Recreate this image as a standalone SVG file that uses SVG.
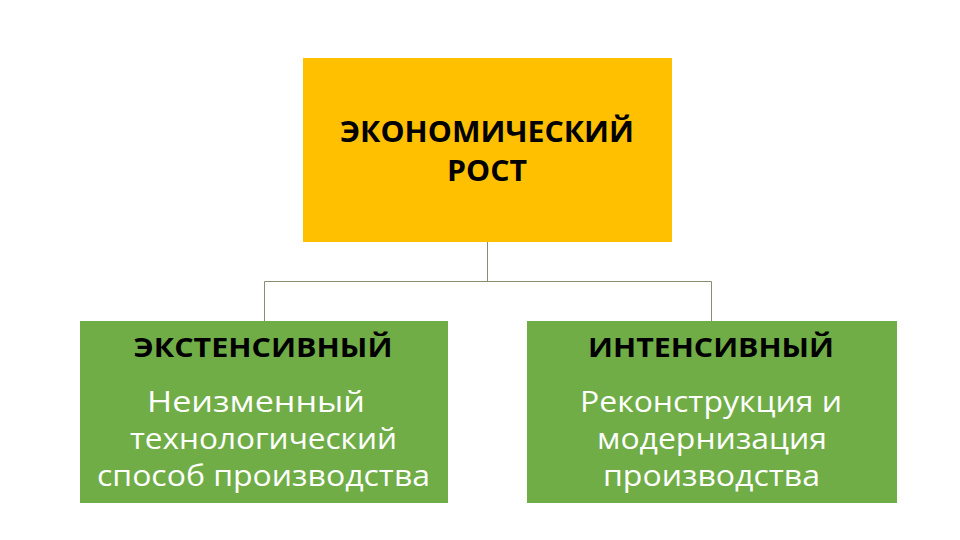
<svg xmlns="http://www.w3.org/2000/svg" width="960" height="540" viewBox="0 0 960 540">
<style>
.h{font-family:"Open Sans","Liberation Sans",sans-serif;font-weight:bold;fill:#000;text-anchor:middle}
.b{font-family:"Open Sans","Liberation Sans",sans-serif;fill:#fff;text-anchor:middle;font-size:30px}
.c{fill:none;stroke:#8c8c70;stroke-width:1}
</style>
<rect width="960" height="540" fill="#fff"/>
<g id="connectors">
<path class="c" d="M487.5 242 V281.5 M264.5 321 V281.5 H711.5 V321"/>
</g>
<g id="root">
<rect x="303" y="58" width="369" height="184" fill="#FFC000"/>
<text class="h" font-size="28" x="487" y="142" textLength="294" lengthAdjust="spacingAndGlyphs">ЭКОНОМИЧЕСКИЙ</text>
<text class="h" font-size="28" x="487" y="181" textLength="80" lengthAdjust="spacingAndGlyphs">РОСТ</text>
</g>
<g id="extensive">
<rect x="80" y="321" width="368" height="182" fill="#70AD47"/>
<text class="h" font-size="27" x="263" y="357" textLength="259" lengthAdjust="spacingAndGlyphs">ЭКСТЕНСИВНЫЙ</text>
<text class="b" x="256" y="412" textLength="218" lengthAdjust="spacingAndGlyphs">Неизменный</text>
<text class="b" x="263.5" y="449" textLength="267" lengthAdjust="spacingAndGlyphs">технологический</text>
<text class="b" x="263.5" y="486" textLength="333" lengthAdjust="spacingAndGlyphs">способ производства</text>
</g>
<g id="intensive">
<rect x="527" y="321" width="370" height="182" fill="#70AD47"/>
<text class="h" font-size="27" x="711" y="357" textLength="246" lengthAdjust="spacingAndGlyphs">ИНТЕНСИВНЫЙ</text>
<text class="b" x="711" y="412" textLength="262" lengthAdjust="spacingAndGlyphs">Реконструкция и</text>
<text class="b" x="712" y="449" textLength="230" lengthAdjust="spacingAndGlyphs">модернизация</text>
<text class="b" x="711.5" y="486" textLength="217" lengthAdjust="spacingAndGlyphs">производства</text>
</g>
</svg>
